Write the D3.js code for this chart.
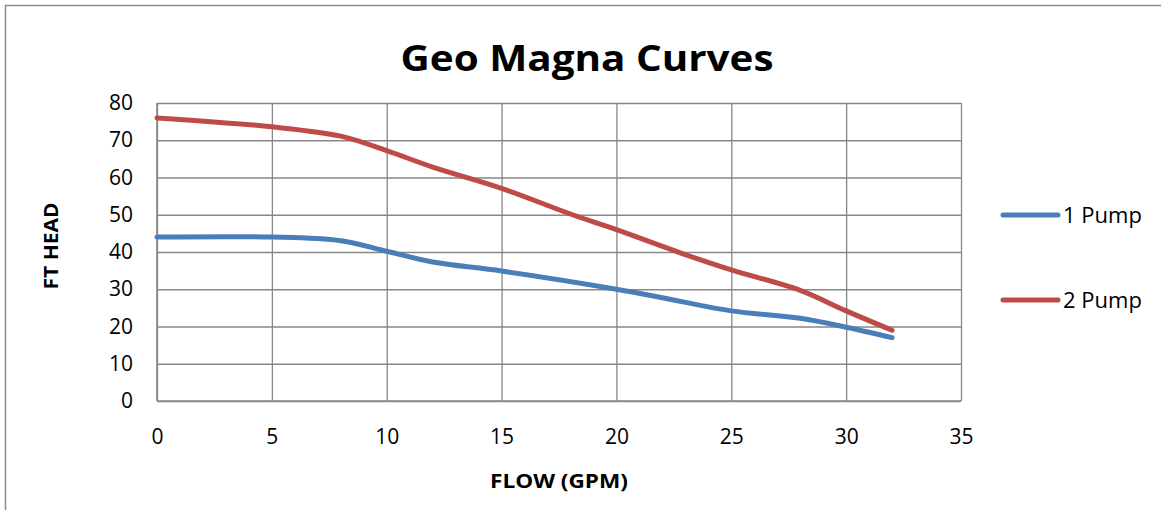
<!DOCTYPE html>
<html>
<head>
<meta charset="utf-8">
<script src="https://cdn.jsdelivr.net/npm/d3@7"></script>
<style>
    body { margin: 0; background: white; }
    svg { display: block; font-family: "Open Sans", sans-serif; }
</style>
</head>
<body>
<svg id="chart"></svg>
<script>
// Data
const flow_one = [0, 5, 8, 10, 12, 15, 20, 22, 25, 28, 30, 32]
const head_one = [44, 44, 43, 40.2, 37.3, 34.9, 30, 27.7, 24.2, 22.2, 19.8, 17]
const flow_two = [0, 5, 8, 10, 12, 15, 18, 20, 23, 25, 28, 30, 32]
const head_two = [76, 73.6, 71.1, 67.2, 62.8, 57.1, 50.2, 46, 39.3, 35.2, 29.7, 24.2, 19]
const series_names = ["1 Pump", "2 Pump"]
const series_colors = ["#4a7ebb", "#be4b48"]
const x_ticks = [0, 5, 10, 15, 20, 25, 30, 35]
const y_ticks = [0, 10, 20, 30, 40, 50, 60, 70, 80]

function load_chart(width = 1161, height = 510) {
    const margin = { left: 157, top: 103, right: 200, bottom: 109 }
    const plot_width = width - margin.left - margin.right
    const plot_height = height - margin.top - margin.bottom
    const grid_color = "#878787"

    const svg = d3.select("#chart")
        .attr("width", width)
        .attr("height", height)

    // Outer chart frame (only top and left visible in the reference)
    svg.append("path")
        .attr("d", `M5.5,${height} V5.5 H${width}`)
        .attr("fill", "none")
        .attr("stroke", "#8c8c8c")
        .attr("stroke-width", 1.5)

    // Title
    svg.append("text")
        .attr("x", 587)
        .attr("y", 71)
        .attr("text-anchor", "middle")
        .attr("font-size", "36px")
        .attr("font-weight", "bold")
        .attr("textLength", 373)
        .attr("lengthAdjust", "spacingAndGlyphs")
        .text("Geo Magna Curves")

    const x = d3.scaleLinear().domain([0, 35]).range([0, plot_width])
    const y = d3.scaleLinear().domain([0, 80]).range([plot_height, 0])

    const g = svg.append("g")
        .attr("transform", `translate(${margin.left},${margin.top})`)

    // Gridlines + tick labels through the axes
    const y_axis = g.append("g")
        .call(d3.axisLeft(y).tickValues(y_ticks).tickSize(-plot_width).tickPadding(24))
    const x_axis = g.append("g")
        .attr("transform", `translate(0,${plot_height})`)
        .call(d3.axisBottom(x).tickValues(x_ticks).tickSize(-plot_height).tickPadding(28))

    ;[x_axis, y_axis].forEach(function(axis) {
        axis.select(".domain").remove()
        axis.selectAll("line")
            .attr("stroke", grid_color)
            .attr("stroke-width", 1.3)
        axis.selectAll("text")
            .attr("font-size", "21px")
            .attr("font-family", "Open Sans, sans-serif")
            .attr("fill", "#000")
    })

    // Axis lines
    g.append("line")
        .attr("x1", 0).attr("x2", 0)
        .attr("y1", 0).attr("y2", plot_height)
        .attr("stroke", grid_color).attr("stroke-width", 1.6)
    g.append("line")
        .attr("x1", 0).attr("x2", plot_width)
        .attr("y1", plot_height).attr("y2", plot_height)
        .attr("stroke", grid_color).attr("stroke-width", 1.6)

    // Series
    const line = d3.line()
        .x(d => x(d[0]))
        .y(d => y(d[1]))
        .curve(d3.curveCatmullRom)

    const series = [
        d3.zip(flow_one, head_one),
        d3.zip(flow_two, head_two),
    ]

    series.forEach(function(points, i) {
        g.append("path")
            .datum(points)
            .attr("d", line)
            .attr("fill", "none")
            .attr("stroke", series_colors[i])
            .attr("stroke-width", 5)
            .attr("stroke-linecap", "round")
            .attr("stroke-linejoin", "round")
    })

    // Axis titles
    svg.append("text")
        .attr("x", 559)
        .attr("y", 488)
        .attr("text-anchor", "middle")
        .attr("font-size", "20px")
        .attr("font-weight", "bold")
        .attr("textLength", 138)
        .attr("lengthAdjust", "spacingAndGlyphs")
        .text("FLOW (GPM)")

    svg.append("text")
        .attr("transform", "translate(58,246) rotate(-90)")
        .attr("text-anchor", "middle")
        .attr("font-size", "20px")
        .attr("font-weight", "bold")
        .attr("textLength", 87)
        .attr("lengthAdjust", "spacingAndGlyphs")
        .text("FT HEAD")

    // Legend
    const legend_y = [215, 300]
    series_names.forEach(function(name, i) {
        svg.append("line")
            .attr("x1", 1003).attr("x2", 1058)
            .attr("y1", legend_y[i]).attr("y2", legend_y[i])
            .attr("stroke", series_colors[i])
            .attr("stroke-width", 5)
            .attr("stroke-linecap", "round")
        svg.append("text")
            .attr("x", 1063)
            .attr("y", legend_y[i] + 8)
            .attr("font-size", "22px")
            .text(name)
    })
}

window.onload = function() {
    load_chart()
}
</script>
</body>
</html>
